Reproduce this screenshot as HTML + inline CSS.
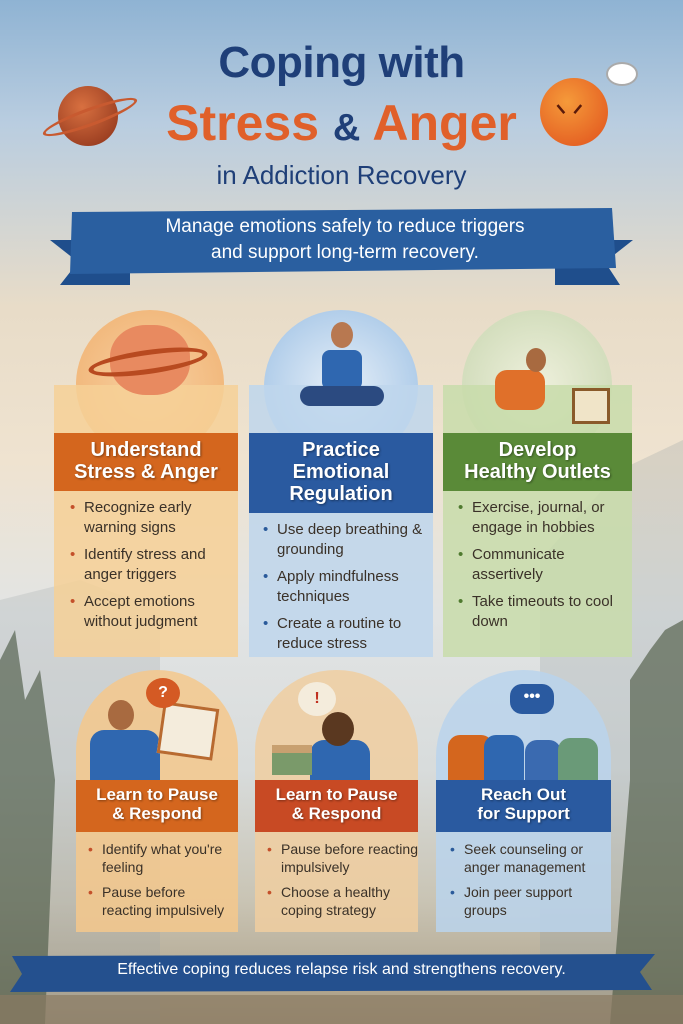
<!DOCTYPE html>
<html><head><meta charset="utf-8"><style>
*{margin:0;padding:0;box-sizing:border-box}
body{width:683px;height:1024px;position:relative;overflow:hidden;font-family:"Liberation Sans",sans-serif;
background:linear-gradient(180deg,#8fb3d3 0%,#b9cde0 12%,#e8dcc8 30%,#efe3d0 45%,#e2e4e4 60%,#d8dcdc 75%,#c9c4b4 88%,#a89a80 100%)}
.a{position:absolute}
.t{color:#1f3f78;font-weight:bold;text-align:center;width:683px;left:0}
.circ{position:absolute;border-radius:50%}
.hd{position:absolute;color:#fff;font-weight:bold;text-align:center;text-shadow:1px 1px 2px rgba(0,0,0,.4);line-height:1.1}
ul{position:absolute;list-style:none;color:#3a3128;font-size:15px;line-height:20px}
li{position:relative;padding-left:14px;margin-bottom:7px}
li:before{content:"•";position:absolute;left:0;color:#c4502a}
.b li:before{color:#2a5a9a}
.g li:before{color:#4f7a2f}
</style></head><body>
<svg class="a" style="left:0;top:0" width="683" height="1024">
<path d="M0 600 L80 580 L160 610 L160 1024 L0 1024Z" fill="#9aa5a8" opacity=".25"/>
<path d="M540 560 L620 470 L683 440 L683 1024 L540 1024Z" fill="#8e9aa0" opacity=".25"/>
<path d="M0 660 L15 630 L25 700 L40 670 L55 780 L45 1024 L0 1024Z" fill="#4d5a46" opacity=".65"/>
<path d="M630 680 L650 650 L665 630 L683 620 L683 1024 L610 1024 L630 780Z" fill="#4e5b45" opacity=".65"/>
<path d="M0 995 L683 995 L683 1024 L0 1024Z" fill="#8a7a62" opacity=".7"/>
</svg>
<div class="a t" style="top:38px;font-size:44px;letter-spacing:-0.5px">Coping with</div>
<div class="a t" style="top:94px;font-size:50px;color:#e0602a">Stress <span style="color:#1f3f78;font-size:38px">&amp;</span> Anger</div>
<div class="a t" style="top:160px;font-size:26px;font-weight:normal">in Addiction Recovery</div>
<div class="circ" style="left:58px;top:86px;width:60px;height:60px;background:radial-gradient(circle at 40% 35%,#d87040,#8a3018)"></div>
<div class="a" style="left:40px;top:108px;width:100px;height:18px;border:3px solid #c85a30;border-radius:50%;transform:rotate(-20deg)"></div>
<div class="circ" style="left:540px;top:78px;width:68px;height:68px;background:radial-gradient(circle at 40% 35%,#f59a3a,#e0501c)"></div>
<div class="a" style="left:556px;top:100px;font-size:24px;color:#5a1a0a;font-weight:bold">ᐠ ᐟ</div>
<div class="circ" style="left:606px;top:62px;width:32px;height:24px;background:#fff;border:2px solid #aaa"></div>
<svg class="a" style="left:0;top:200px" width="683" height="95">
<path d="M50 40 L130 40 L130 85 L60 85 L78 62Z" fill="#1f4e8c"/>
<path d="M633 40 L555 40 L555 85 L620 85 L605 62Z" fill="#1f4e8c"/>
<path d="M72 12 L612 8 L616 68 L70 74Z" fill="#2a5fa0"/>
</svg>
<div class="a" style="left:80px;top:214px;width:530px;text-align:center;color:#fff;font-size:19px;line-height:26px">Manage emotions safely to reduce triggers<br>and support long-term recovery.</div>

<div class="circ" style="left:76px;top:310px;width:148px;height:148px;background:radial-gradient(circle,#f7d0a0,#f0b070)"></div>
<div class="a" style="left:54px;top:385px;width:184px;height:272px;background:rgba(246,208,150,.85)"></div>
<div class="circ" style="left:110px;top:325px;width:80px;height:70px;background:#e88a60;border-radius:45%"></div>
<div class="a" style="left:88px;top:350px;width:120px;height:24px;border:5px solid #b84a20;border-radius:50%;transform:rotate(-8deg)"></div>
<div class="hd" style="left:54px;top:433px;width:184px;height:58px;background:#d4661e;font-size:20px;padding-top:6px">Understand<br>Stress &amp; Anger</div>
<ul style="left:70px;top:498px;width:168px"><li>Recognize early warning signs</li><li>Identify stress and anger triggers</li><li>Accept emotions without judgment</li></ul>

<div class="circ" style="left:264px;top:310px;width:154px;height:154px;background:radial-gradient(circle,#e6eff8,#9cc0e4)"></div>
<div class="a" style="left:249px;top:385px;width:184px;height:272px;background:rgba(190,214,236,.85)"></div>
<div class="circ" style="left:331px;top:322px;width:22px;height:26px;background:#b87850"></div>
<div class="a" style="left:322px;top:350px;width:40px;height:40px;background:#2f67b0;border-radius:8px"></div>
<div class="a" style="left:300px;top:386px;width:84px;height:20px;background:#2b4a80;border-radius:10px"></div>
<div class="hd" style="left:249px;top:433px;width:184px;height:80px;background:#2a5aa0;font-size:20px;padding-top:6px">Practice<br>Emotional<br>Regulation</div>
<ul class="b" style="left:263px;top:520px;width:170px"><li>Use deep breathing &amp; grounding</li><li>Apply mindfulness techniques</li><li>Create a routine to reduce stress</li></ul>

<div class="circ" style="left:462px;top:310px;width:150px;height:150px;background:radial-gradient(circle,#eef0dc,#c8d6b0)"></div>
<div class="a" style="left:443px;top:385px;width:189px;height:272px;background:rgba(200,220,170,.85)"></div>
<div class="a" style="left:495px;top:370px;width:50px;height:40px;background:#e0702a;border-radius:12px"></div>
<div class="circ" style="left:526px;top:348px;width:20px;height:24px;background:#a86a40"></div>
<div class="a" style="left:572px;top:388px;width:38px;height:36px;background:#f0e4c8;border:3px solid #8a5a2a"></div>
<div class="hd" style="left:443px;top:433px;width:189px;height:58px;background:#5a8a38;font-size:20px;padding-top:6px">Develop<br>Healthy Outlets</div>
<ul class="g" style="left:458px;top:498px;width:174px"><li>Exercise, journal, or engage in hobbies</li><li>Communicate assertively</li><li>Take timeouts to cool down</li></ul>

<div class="a" style="left:76px;top:670px;width:162px;height:262px;border-radius:81px 81px 0 0;background:rgba(244,200,140,.85)"></div>
<div class="a" style="left:90px;top:730px;width:70px;height:50px;background:#2f67b0;border-radius:14px 14px 0 0"></div>
<div class="circ" style="left:108px;top:700px;width:26px;height:30px;background:#a86a40"></div>
<div class="a" style="left:160px;top:705px;width:56px;height:52px;background:#f4ecdc;border:3px solid #b86a30;transform:rotate(8deg)"></div>
<div class="circ" style="left:146px;top:678px;width:34px;height:30px;background:#d45a24;color:#fff;font-weight:bold;text-align:center;line-height:30px">?</div>
<div class="hd" style="left:76px;top:780px;width:162px;height:52px;background:#d4661e;font-size:17px;padding-top:6px">Learn to Pause<br>&amp; Respond</div>
<ul style="left:88px;top:840px;width:150px;font-size:14px;line-height:18px"><li>Identify what you're feeling</li><li>Pause before reacting impulsively</li></ul>

<div class="a" style="left:255px;top:670px;width:163px;height:262px;border-radius:81px 81px 0 0;background:rgba(240,206,160,.85)"></div>
<div class="a" style="left:310px;top:740px;width:60px;height:40px;background:#2f67b0;border-radius:14px 14px 0 0"></div>
<div class="circ" style="left:322px;top:712px;width:32px;height:34px;background:#5a3820"></div>
<div class="a" style="left:272px;top:745px;width:40px;height:30px;background:#7a9a6a;border-top:8px solid #c8a070"></div>
<div class="circ" style="left:298px;top:682px;width:38px;height:34px;background:#f4ecdc;color:#c03020;font-weight:bold;text-align:center;line-height:34px">!</div>
<div class="hd" style="left:255px;top:780px;width:163px;height:52px;background:#c84a24;font-size:17px;padding-top:6px">Learn to Pause<br>&amp; Respond</div>
<ul style="left:267px;top:840px;width:151px;font-size:14px;line-height:18px"><li>Pause before reacting impulsively</li><li>Choose a healthy coping strategy</li></ul>

<div class="a" style="left:436px;top:670px;width:175px;height:262px;border-radius:87px 87px 0 0;background:rgba(186,212,236,.85)"></div>
<div class="a" style="left:448px;top:735px;width:45px;height:45px;background:#d4661e;border-radius:12px 12px 0 0"></div>
<div class="a" style="left:484px;top:735px;width:40px;height:45px;background:#2f67b0;border-radius:12px 12px 0 0"></div>
<div class="a" style="left:525px;top:740px;width:36px;height:40px;background:#3a6ab0;border-radius:12px 12px 0 0"></div>
<div class="a" style="left:558px;top:738px;width:40px;height:42px;background:#6a9a78;border-radius:12px 12px 0 0"></div>
<div class="a" style="left:510px;top:684px;width:44px;height:30px;background:#2a5aa0;border-radius:12px;color:#fff;text-align:center;line-height:26px;font-weight:bold">•••</div>
<div class="hd" style="left:436px;top:780px;width:175px;height:52px;background:#2a5aa0;font-size:17px;padding-top:6px">Reach Out<br>for Support</div>
<ul class="b" style="left:450px;top:840px;width:161px;font-size:14px;line-height:18px"><li>Seek counseling or anger management</li><li>Join peer support groups</li></ul>

<svg class="a" style="left:0;top:950px" width="683" height="45"><path d="M12 6 L655 4 L640 22 L652 40 L10 42 L22 24Z" fill="#24508e"/></svg>
<div class="a" style="left:0;top:961px;width:683px;text-align:center;color:#fff;font-size:16px">Effective coping reduces relapse risk and strengthens recovery.</div>
</body></html>
